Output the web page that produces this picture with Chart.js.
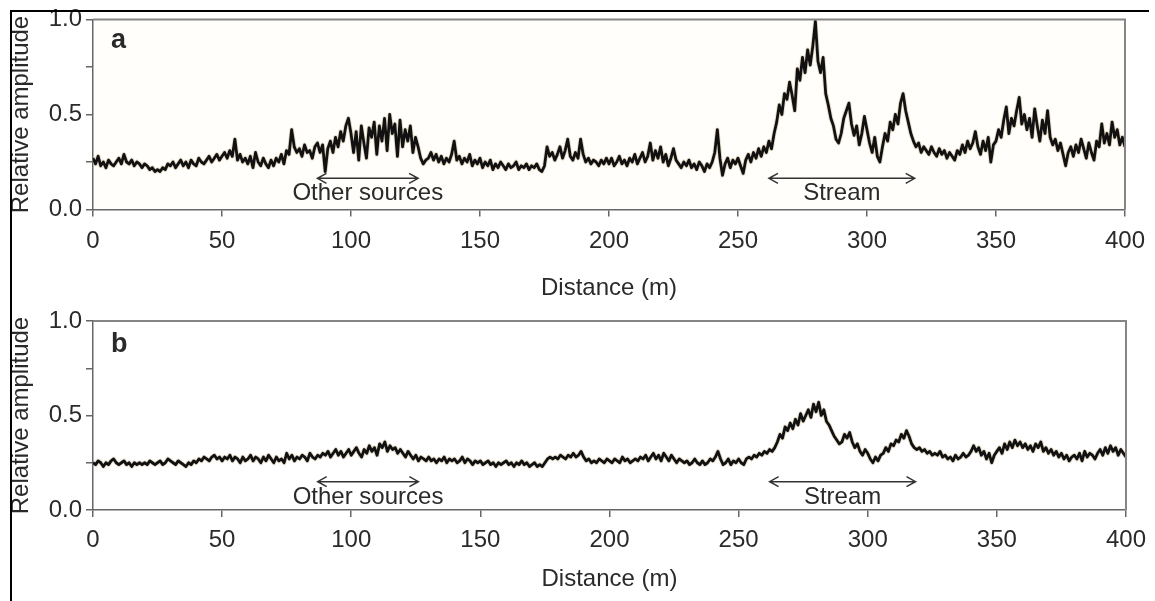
<!DOCTYPE html>
<html>
<head>
<meta charset="utf-8">
<title>Relative amplitude vs distance</title>
<script src="https://cdn.jsdelivr.net/npm/chart.js@4.4.1/dist/chart.umd.min.js"></script>
<style>
  html, body { margin: 0; padding: 0; background: #fff; }
  #fig { position: relative; width: 1155px; height: 601px; overflow: hidden; }
  .panel { position: absolute; left: 0; width: 1155px; }
  #frame {
    position: absolute; left: 10px; top: 10px; width: 1137px; height: 600px;
    border-top: 2px solid #000; border-left: 2px solid #000;
    pointer-events: none; z-index: 2;
  }
</style>
</head>
<body>
<div id="fig">
  <div class="panel" style="top:0;height:300px"><canvas id="chartA" width="1155" height="300"></canvas></div>
  <div class="panel" style="top:300px;height:301px"><canvas id="chartB" width="1155" height="301"></canvas></div>
  <div id="frame"></div>
</div>
<script>
// Sample spacing along the profile (m); one amplitude reading per sample.
const sampleSpacingM = 1;

// Axis ticks
const distanceTicks = [0, 50, 100, 150, 200, 250, 300, 350, 400];
const amplitudeTicks = [0, 0.25, 0.5, 0.75, 1.0];
const amplitudeTickLabels = ['0.0', '', '0.5', '', '1.0'];

// Panel a: relative amplitude, 0–400 m
const amplitudeA = [
  0.27,0.24,0.28,0.23,0.25,0.22,0.26,0.24,0.23,0.25,
  0.27,0.24,0.29,0.25,0.24,0.26,0.23,0.25,0.24,0.22,
  0.24,0.23,0.21,0.22,0.20,0.21,0.20,0.22,0.21,0.24,
  0.23,0.25,0.22,0.24,0.26,0.23,0.25,0.22,0.26,0.24,
  0.23,0.27,0.25,0.24,0.26,0.28,0.25,0.27,0.29,0.26,
  0.28,0.30,0.27,0.31,0.28,0.37,0.26,0.29,0.25,0.27,
  0.24,0.28,0.22,0.30,0.25,0.23,0.27,0.24,0.22,0.26,
  0.23,0.27,0.25,0.29,0.24,0.31,0.29,0.42,0.33,0.30,
  0.32,0.28,0.34,0.30,0.31,0.27,0.33,0.35,0.30,0.34,
  0.20,0.32,0.36,0.30,0.38,0.33,0.41,0.36,0.44,0.48,
  0.40,0.30,0.41,0.26,0.44,0.35,0.27,0.43,0.38,0.46,
  0.29,0.44,0.36,0.48,0.31,0.50,0.40,0.45,0.28,0.47,
  0.33,0.42,0.36,0.44,0.30,0.38,0.33,0.27,0.24,0.26,
  0.27,0.30,0.26,0.29,0.25,0.28,0.24,0.27,0.25,0.29,
  0.36,0.26,0.28,0.24,0.27,0.25,0.29,0.23,0.26,0.24,
  0.27,0.22,0.25,0.23,0.26,0.21,0.24,0.22,0.25,0.23,
  0.21,0.24,0.22,0.23,0.25,0.21,0.23,0.22,0.24,0.21,
  0.23,0.22,0.24,0.21,0.20,0.23,0.33,0.28,0.30,0.26,
  0.29,0.33,0.27,0.31,0.37,0.28,0.26,0.30,0.27,0.37,
  0.29,0.25,0.27,0.24,0.26,0.25,0.23,0.26,0.24,0.27,
  0.24,0.27,0.23,0.25,0.28,0.24,0.26,0.23,0.27,0.25,
  0.29,0.24,0.27,0.30,0.25,0.28,0.35,0.26,0.31,0.27,
  0.33,0.25,0.29,0.23,0.27,0.32,0.26,0.24,0.22,0.25,
  0.23,0.26,0.22,0.24,0.21,0.25,0.23,0.20,0.24,0.22,
  0.25,0.30,0.42,0.27,0.18,0.24,0.27,0.22,0.26,0.24,
  0.27,0.23,0.19,0.26,0.29,0.25,0.30,0.27,0.32,0.28,
  0.33,0.30,0.36,0.32,0.40,0.46,0.55,0.50,0.61,0.58,
  0.67,0.60,0.52,0.74,0.68,0.80,0.72,0.84,0.76,0.86,
  0.99,0.78,0.72,0.80,0.61,0.55,0.48,0.44,0.37,0.35,
  0.40,0.48,0.52,0.56,0.45,0.39,0.44,0.34,0.40,0.49,
  0.42,0.35,0.30,0.38,0.28,0.25,0.33,0.40,0.36,0.46,
  0.42,0.50,0.45,0.56,0.61,0.52,0.46,0.40,0.36,0.33,
  0.35,0.30,0.33,0.31,0.29,0.33,0.30,0.28,0.32,0.29,
  0.31,0.27,0.30,0.28,0.26,0.31,0.29,0.34,0.30,0.36,
  0.32,0.35,0.41,0.33,0.29,0.36,0.31,0.38,0.25,0.34,
  0.36,0.42,0.38,0.47,0.54,0.40,0.48,0.44,0.52,0.59,
  0.45,0.50,0.42,0.48,0.38,0.53,0.44,0.36,0.47,0.40,
  0.52,0.38,0.34,0.37,0.31,0.35,0.29,0.23,0.30,0.33,
  0.28,0.34,0.30,0.37,0.32,0.27,0.35,0.30,0.26,0.36,
  0.33,0.45,0.35,0.40,0.34,0.46,0.38,0.42,0.34,0.38,
  0.33
];

// Panel b: relative amplitude, 0–400 m
const amplitudeB = [
  0.25,0.24,0.26,0.25,0.23,0.25,0.24,0.26,0.27,0.25,
  0.24,0.25,0.26,0.24,0.25,0.23,0.25,0.24,0.25,0.24,
  0.25,0.24,0.26,0.25,0.24,0.25,0.26,0.24,0.25,0.27,
  0.26,0.25,0.24,0.26,0.25,0.24,0.23,0.25,0.24,0.26,
  0.25,0.27,0.26,0.28,0.27,0.26,0.28,0.29,0.27,0.28,
  0.26,0.28,0.27,0.29,0.26,0.28,0.27,0.25,0.28,0.26,
  0.27,0.29,0.26,0.28,0.27,0.25,0.28,0.26,0.29,0.27,
  0.25,0.28,0.26,0.27,0.25,0.30,0.27,0.29,0.26,0.28,
  0.27,0.29,0.28,0.26,0.30,0.28,0.27,0.29,0.28,0.30,
  0.29,0.31,0.28,0.30,0.32,0.29,0.31,0.28,0.30,0.32,
  0.29,0.31,0.33,0.30,0.28,0.32,0.30,0.34,0.31,0.33,
  0.29,0.35,0.33,0.36,0.31,0.34,0.32,0.33,0.30,0.32,
  0.30,0.28,0.31,0.29,0.27,0.29,0.26,0.28,0.27,0.26,
  0.28,0.26,0.27,0.25,0.27,0.26,0.28,0.25,0.27,0.26,
  0.27,0.25,0.26,0.28,0.25,0.27,0.26,0.24,0.26,0.25,
  0.26,0.24,0.25,0.26,0.24,0.25,0.23,0.25,0.24,0.25,
  0.26,0.24,0.25,0.23,0.25,0.24,0.26,0.24,0.25,0.23,
  0.24,0.25,0.23,0.24,0.23,0.25,0.27,0.28,0.27,0.28,
  0.27,0.29,0.28,0.27,0.29,0.28,0.30,0.28,0.29,0.31,
  0.28,0.26,0.27,0.25,0.26,0.25,0.27,0.26,0.25,0.27,
  0.26,0.25,0.27,0.26,0.25,0.28,0.26,0.27,0.25,0.26,
  0.27,0.26,0.28,0.27,0.29,0.26,0.28,0.30,0.27,0.29,
  0.26,0.30,0.28,0.26,0.29,0.27,0.25,0.27,0.26,0.25,
  0.26,0.24,0.25,0.27,0.25,0.24,0.26,0.24,0.25,0.27,
  0.26,0.28,0.31,0.27,0.24,0.25,0.27,0.24,0.26,0.25,
  0.27,0.25,0.24,0.27,0.28,0.27,0.29,0.28,0.30,0.29,
  0.31,0.30,0.32,0.31,0.33,0.36,0.40,0.38,0.44,0.42,
  0.46,0.43,0.48,0.45,0.51,0.47,0.50,0.53,0.49,0.56,
  0.52,0.57,0.50,0.53,0.47,0.45,0.42,0.39,0.37,0.35,
  0.36,0.40,0.38,0.41,0.36,0.33,0.35,0.31,0.29,0.32,
  0.30,0.27,0.25,0.28,0.26,0.29,0.30,0.33,0.31,0.35,
  0.34,0.37,0.36,0.40,0.38,0.42,0.39,0.35,0.33,0.32,
  0.33,0.31,0.32,0.30,0.31,0.29,0.30,0.29,0.31,0.28,
  0.29,0.27,0.28,0.26,0.29,0.27,0.28,0.30,0.28,0.29,
  0.31,0.34,0.31,0.33,0.29,0.31,0.27,0.30,0.25,0.29,
  0.31,0.33,0.30,0.35,0.32,0.36,0.33,0.37,0.34,0.36,
  0.33,0.35,0.32,0.34,0.31,0.35,0.33,0.36,0.31,0.33,
  0.30,0.32,0.29,0.31,0.28,0.30,0.27,0.29,0.26,0.28,
  0.29,0.27,0.30,0.26,0.31,0.28,0.30,0.29,0.27,0.30,
  0.32,0.29,0.33,0.30,0.34,0.31,0.33,0.29,0.32,0.30,
  0.28
];

// Span annotations (distance in m)
const spanLabels = ['Other sources', 'Stream'];
const spanStart = [87, 262];
const spanEnd = [126, 318.5];

const FONT = "'Liberation Sans', Arial, Helvetica, sans-serif";
const TEXT = '#2a2a2a';
const AXIS = '#666';

function toPoints(values) {
  return values.map((v, i) => ({ x: i * sampleSpacingM, y: v }));
}

// Draws the plot frame, panel letter and the double-headed span arrows.
const panelDecor = {
  id: 'panelDecor',
  beforeDraw(chart, args, o) {
    const { ctx, chartArea: a } = chart;
    if (o.background) {
      ctx.save();
      ctx.fillStyle = o.background;
      ctx.fillRect(a.left, a.top, a.right - a.left, a.bottom - a.top);
      ctx.restore();
    }
  },
  afterDatasetsDraw(chart, args, o) {
    const { ctx, chartArea: a, scales: { x, y } } = chart;
    ctx.save();
    // top and right edges of the plot box
    ctx.strokeStyle = '#858585';
    ctx.lineWidth = 2;
    ctx.beginPath();
    ctx.moveTo(a.left, a.top);
    ctx.lineTo(a.right, a.top);
    ctx.lineTo(a.right, a.bottom);
    ctx.stroke();

    // panel letter
    ctx.fillStyle = TEXT;
    ctx.font = 'bold 27px ' + FONT;
    ctx.textAlign = 'left';
    ctx.textBaseline = 'alphabetic';
    ctx.fillText(o.letter, a.left + 18, a.top + o.letterDrop);

    // span arrows with labels
    ctx.strokeStyle = '#333';
    ctx.lineWidth = 1.5;
    ctx.font = '24px ' + FONT;
    ctx.textAlign = 'center';
    ctx.textBaseline = 'middle';
    const ay = y.getPixelForValue(o.arrowLevel);
    const ty = y.getPixelForValue(o.textLevel);
    for (let i = 0; i < spanLabels.length; i++) {
      const x0 = x.getPixelForValue(spanStart[i]);
      const x1 = x.getPixelForValue(spanEnd[i]);
      ctx.beginPath();
      ctx.moveTo(x0, ay); ctx.lineTo(x1, ay);
      ctx.moveTo(x0 + 9, ay - 5); ctx.lineTo(x0, ay); ctx.lineTo(x0 + 9, ay + 5);
      ctx.moveTo(x1 - 9, ay - 5); ctx.lineTo(x1, ay); ctx.lineTo(x1 - 9, ay + 5);
      ctx.stroke();
      ctx.fillText(spanLabels[i], (x0 + x1) / 2, ty);
    }
    ctx.restore();
  }
};

function makePanel(canvasId, values, p) {
  const pts = toPoints(values);
  return new Chart(document.getElementById(canvasId), {
    type: 'line',
    data: {
      datasets: [
        { data: pts, borderColor: '#111', borderWidth: 2.8, borderJoinStyle: 'round', pointRadius: 0, tension: 0 },
        { data: pts, borderColor: 'rgba(180,152,100,0.35)', borderWidth: 4.6, borderJoinStyle: 'round', pointRadius: 0, tension: 0 }
      ]
    },
    options: {
      responsive: false,
      animation: false,
      events: [],
      layout: { padding: { left: 0, right: 27, top: p.top, bottom: 0 } },
      plugins: {
        legend: { display: false },
        tooltip: { enabled: false },
        panelDecor: p.decor
      },
      scales: {
        x: {
          type: 'linear',
          min: 0, max: 400,
          afterBuildTicks(s) { s.ticks = distanceTicks.map(v => ({ value: v })); },
          afterFit(s) { s.height = p.xHeight; },
          ticks: {
            font: { family: FONT, size: 24 }, color: TEXT, padding: p.xTickPad,
            maxRotation: 0, autoSkip: false,
            callback: v => String(v)
          },
          grid: { drawOnChartArea: false, drawTicks: true, tickLength: 7, color: AXIS, lineWidth: 1.5 },
          border: { display: true, color: AXIS, width: 1.5 },
          title: {
            display: true, text: 'Distance (m)', color: TEXT,
            font: { family: FONT, size: 24 }, padding: { top: 0, bottom: p.xTitlePad }
          }
        },
        y: {
          min: 0, max: 1,
          afterBuildTicks(s) { s.ticks = amplitudeTicks.map(v => ({ value: v })); },
          afterFit(s) { s.width = 93; },
          ticks: {
            font: { family: FONT, size: 24 }, color: TEXT, padding: 4,
            autoSkip: false,
            callback: (v, i) => amplitudeTickLabels[i]
          },
          grid: { drawOnChartArea: false, drawTicks: true, tickLength: 7, color: AXIS, lineWidth: 1.5 },
          border: { display: true, color: AXIS, width: 1.5 },
          title: {
            display: true, text: 'Relative amplitude', color: TEXT,
            font: { family: FONT, size: 24 }, padding: { top: 7, bottom: 0 }
          }
        }
      }
    },
    plugins: [panelDecor]
  });
}

makePanel('chartA', amplitudeA, {
  top: 19.5, xHeight: 90.5, xTickPad: 10, xTitlePad: -3,
  decor: { letter: 'a', letterDrop: 28.5, arrowLevel: 0.164, textLevel: 0.085, background: '#fffefb' }
});
makePanel('chartB', amplitudeB, {
  top: 21, xHeight: 91, xTickPad: 9, xTitlePad: 7,
  decor: { letter: 'b', letterDrop: 30.5, arrowLevel: 0.15, textLevel: 0.068, background: null }
});
</script>
</body>
</html>
